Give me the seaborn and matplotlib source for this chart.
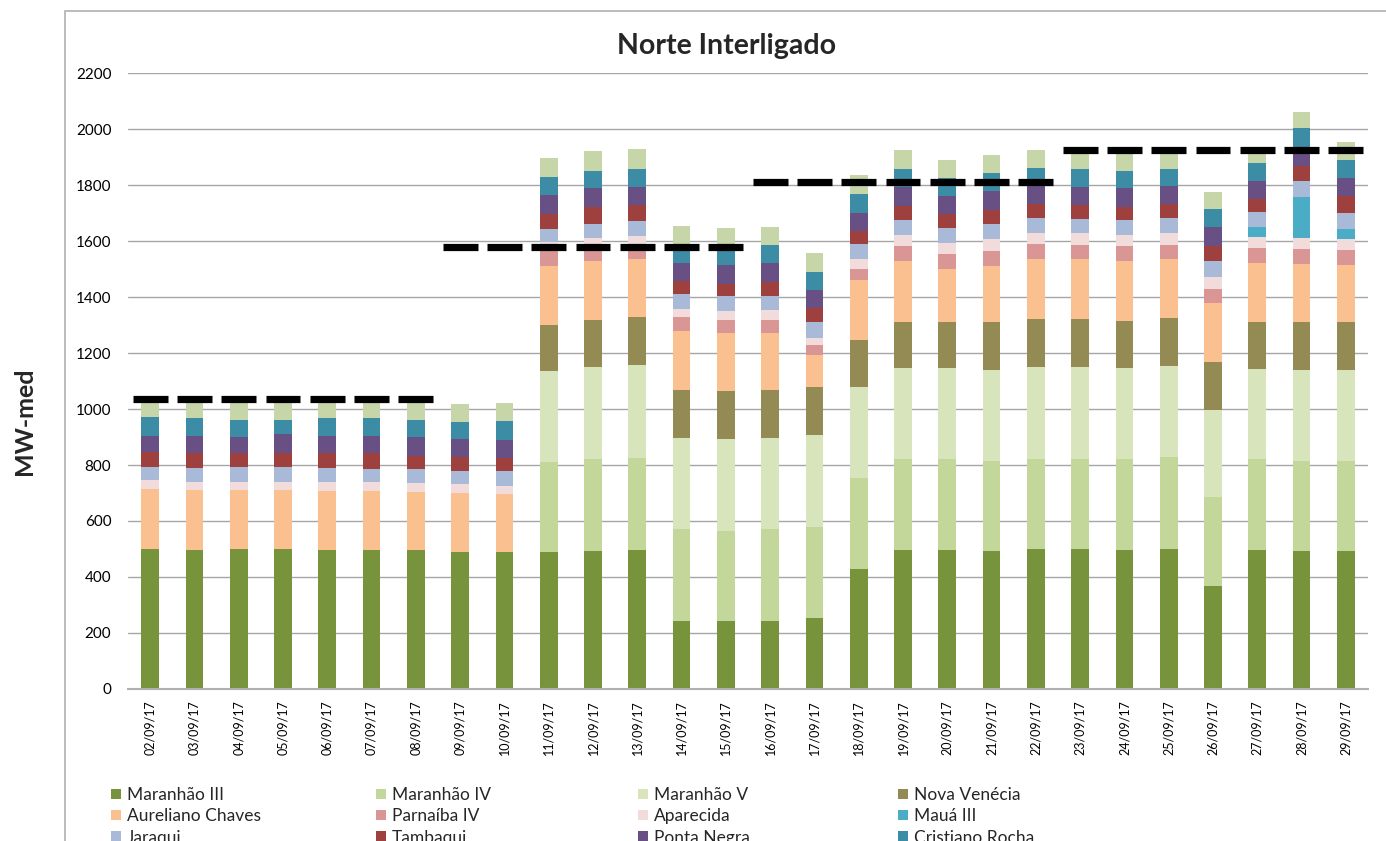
import numpy as np
import matplotlib
matplotlib.use("Agg")
import matplotlib.pyplot as plt
from matplotlib.patches import Patch, Rectangle
import seaborn as sns

# Data (MW-med per day)
dates = ['02/09/17', '03/09/17', '04/09/17', '05/09/17', '06/09/17', '07/09/17', '08/09/17',
         '09/09/17', '10/09/17', '11/09/17', '12/09/17', '13/09/17', '14/09/17', '15/09/17',
         '16/09/17', '17/09/17', '18/09/17', '19/09/17', '20/09/17', '21/09/17', '22/09/17',
         '23/09/17', '24/09/17', '25/09/17', '26/09/17', '27/09/17', '28/09/17', '29/09/17']

maranhao_iii = [500, 498, 501, 501, 498, 498, 498, 490, 490, 490, 494, 498, 244, 244,
                244, 252, 429, 497, 497, 493, 500, 500, 497, 500, 368, 497, 493, 493]
maranhao_iv = [0, 0, 0, 0, 0, 0, 0, 0, 0, 321, 327, 327, 326, 322,
               326, 327, 325, 323, 323, 322, 322, 322, 325, 328, 318, 323, 322, 322]
maranhao_v = [0, 0, 0, 0, 0, 0, 0, 0, 0, 325, 329, 331, 328, 328,
              328, 327, 326, 326, 326, 324, 329, 329, 324, 327, 312, 322, 324, 324]
nova_venecia = [0, 0, 0, 0, 0, 0, 0, 0, 0, 163, 168, 171, 170, 170,
                170, 171, 168, 166, 166, 170, 171, 171, 170, 170, 170, 170, 170, 170]
aureliano_chaves = [215, 212, 209, 209, 209, 209, 205, 209, 205, 211, 209, 209, 210, 209,
                    205, 115, 213, 215, 188, 203, 212, 212, 211, 209, 211, 211, 210, 206]
parnaiba_iv = [0, 0, 0, 0, 0, 0, 0, 0, 0, 55, 48, 42, 49, 45,
               45, 38, 38, 54, 53, 52, 54, 53, 55, 53, 51, 52, 54, 53]
aparecida = [31, 31, 31, 31, 31, 31, 31, 32, 31, 30, 37, 41, 29, 32,
             36, 24, 35, 40, 41, 43, 41, 42, 39, 42, 41, 39, 36, 39]
maua_iii = [0, 0, 0, 0, 0, 0, 0, 0, 0, 0, 0, 0, 0, 0,
            0, 0, 0, 0, 0, 0, 0, 0, 0, 0, 0, 35, 148, 36]
jaraqui = [48, 49, 53, 53, 52, 49, 53, 49, 54, 47, 49, 53, 53, 53,
           51, 57, 54, 53, 54, 53, 54, 50, 53, 54, 59, 54, 58, 58]
tambaqui = [51, 52, 48, 50, 52, 55, 46, 49, 45, 56, 61, 58, 47, 45,
            47, 49, 47, 50, 48, 50, 48, 49, 47, 48, 52, 46, 52, 61]
ponta_negra = [60, 63, 59, 65, 63, 63, 68, 64, 65, 66, 66, 63, 66, 65,
               70, 65, 66, 68, 66, 68, 67, 65, 68, 65, 67, 66, 63, 64]
cristiano_rocha = [67, 63, 60, 52, 63, 63, 60, 61, 68, 64, 62, 65, 63, 72,
                   63, 64, 68, 64, 63, 65, 62, 64, 62, 62, 64, 62, 73, 65]
manauara = [48, 52, 59, 59, 52, 52, 59, 64, 64, 69, 71, 69, 68, 60,
            64, 69, 66, 69, 66, 64, 65, 63, 69, 62, 63, 43, 58, 61]

# weekly reference level (black dashes)
reference = [1035, 1035, 1035, 1035, 1035, 1035, 1035, 1577, 1577, 1577, 1577, 1577, 1577, 1577,
             1810, 1810, 1810, 1810, 1810, 1810, 1810, 1926, 1926, 1926, 1926, 1926, 1926, 1926]

names = ['Maranhão III', 'Maranhão IV', 'Maranhão V', 'Nova Venécia', 'Aureliano Chaves',
         'Parnaíba IV', 'Aparecida', 'Mauá III', 'Jaraqui', 'Tambaqui', 'Ponta Negra',
         'Cristiano Rocha', 'Manauara']
colors = ['#77933C', '#C4D79B', '#D8E4BC', '#948A54', '#FAC090', '#DA9694', '#F2DCDB',
          '#4BACC6', '#A9B9D8', '#9E403D', '#685084', '#3C8CA5', '#C6D6A8']
series = [maranhao_iii, maranhao_iv, maranhao_v, nova_venecia, aureliano_chaves, parnaiba_iv,
          aparecida, maua_iii, jaraqui, tambaqui, ponta_negra, cristiano_rocha, manauara]

sns.set_style('white')
plt.rcParams['font.family'] = ['Lato', 'DejaVu Sans']

W, H = 1386, 841
fig = plt.figure(figsize=(W / 100, H / 100), dpi=100)
ax = fig.add_axes([128 / W, 1 - 689 / H, 1240 / W, 616 / H])

# stacked bars
bottom = np.zeros(len(dates))
for name, vals, col in zip(names, series, colors):
    sns.barplot(x=dates, y=vals, color=col, width=0.4, bottom=bottom, errorbar=None,
                saturation=1, linewidth=0, ax=ax)
    bottom = bottom + np.array(vals)

# reference dashes, one per day
xpos = np.arange(len(dates))
ax.hlines(reference, xpos - 0.395, xpos + 0.395, colors='black', linewidth=5.2, zorder=5)

ax.set_xlim(-0.5, len(dates) - 0.5)
ax.set_ylim(0, 2200)
ax.set_yticks(np.arange(0, 2201, 200))
ax.set_axisbelow(True)
ax.yaxis.grid(True, color='#a6a6a6', linewidth=1)
ax.xaxis.grid(False)
for s in ['left', 'right', 'top']:
    ax.spines[s].set_visible(False)
ax.spines['bottom'].set_color('#b0b0b0')
ax.spines['bottom'].set_linewidth(1.5)
ax.tick_params(axis='y', length=0, pad=12, labelsize=11, labelcolor='black')
ax.tick_params(axis='x', length=0, pad=8, labelsize=9, rotation=90, labelcolor='black')
ax.set_xlabel('')
ax.set_ylabel('')

fig.text(727 / W, 1 - 46 / H, 'Norte Interligado', ha='center', va='center',
         fontsize=20.5, fontweight='bold')
fig.text(24 / W, 1 - 421 / H, 'MW-med', ha='center', va='center', rotation=90,
         fontsize=18, fontweight='bold')

# chart area border (runs past right and bottom edges)
fig.patches.append(Rectangle((65 / W, -0.05), 1.0, 1 - 11 / H + 0.05, transform=fig.transFigure,
                             fill=False, edgecolor='#b0b0b0', linewidth=1.2))

# legend, four columns filled row by row like Excel (last row falls below the picture)
col_x = [111, 376, 638, 898]
for k in range(4):
    idx = [i for i in range(k, len(names), 4)]
    handles = [Patch(facecolor=colors[i], edgecolor='none') for i in idx]
    labels = [names[i] for i in idx]
    fig.legend(handles, labels, loc='upper left', bbox_to_anchor=(col_x[k] / W, 1 - 787 / H),
               frameon=False, fontsize=12.5, borderpad=0, borderaxespad=0, handlelength=0.55,
               handleheight=0.55, handletextpad=0.35, labelspacing=0.31)

fig.savefig('out.png', dpi=100)
